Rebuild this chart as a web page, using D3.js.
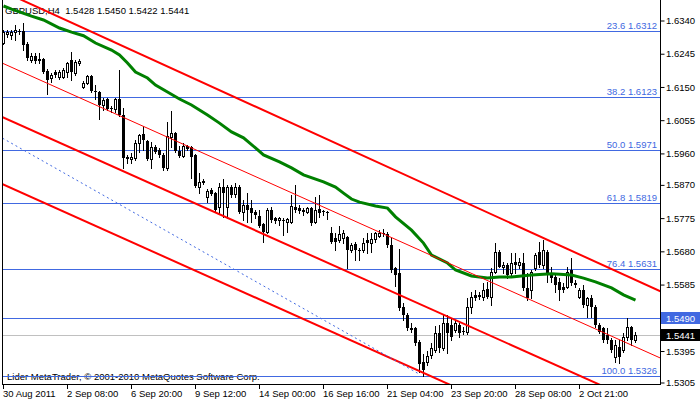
<!DOCTYPE html>
<html>
<head>
<meta charset="utf-8">
<script src="https://cdn.jsdelivr.net/npm/d3@7"></script>
<style>
  body { margin: 0; background: #fff; }
  svg text { font-family: "Liberation Sans", Arial, sans-serif; font-size: 9.5px; }
</style>
</head>
<body>
<div id="chart"></div>
<script>
"use strict";

// GBPUSD H4 bars, bar 0 = 30 Aug 2011 16:00
const barOpen = [
  1.6277, 1.6303, 1.6300, 1.6308, 1.6311, 1.6311, 1.6274, 1.6228, 1.6240, 1.6228,
  1.6231, 1.6197, 1.6177, 1.6194, 1.6180, 1.6180, 1.6194, 1.6228, 1.6191, 1.6220,
  1.6151, 1.6163, 1.6183, 1.6140, 1.6137, 1.6100, 1.6117, 1.6091, 1.6088, 1.6117,
  1.6071, 1.5951, 1.5945, 1.5948, 1.5991, 1.6017, 1.5997, 1.5945, 1.5980, 1.5971,
  1.5957, 1.5920, 1.6008, 1.6020, 1.5968, 1.5954, 1.5982, 1.5980, 1.5957, 1.5865,
  1.5883, 1.5837, 1.5857, 1.5848, 1.5808, 1.5865, 1.5808, 1.5865, 1.5845, 1.5865,
  1.5794, 1.5814, 1.5805, 1.5794, 1.5782, 1.5759, 1.5737, 1.5799, 1.5777, 1.5771,
  1.5771, 1.5765, 1.5765, 1.5808, 1.5805, 1.5799, 1.5794, 1.5805, 1.5765, 1.5802,
  1.5797, 1.5794, 1.5734, 1.5720, 1.5714, 1.5720, 1.5722, 1.5685, 1.5702, 1.5685,
  1.5685, 1.5714, 1.5705, 1.5717, 1.5725, 1.5734, 1.5731, 1.5700, 1.5634, 1.5620,
  1.5522, 1.5499, 1.5462, 1.5462, 1.5422, 1.5365, 1.5365, 1.5385, 1.5399, 1.5448,
  1.5405, 1.5476, 1.5471, 1.5456, 1.5471, 1.5453, 1.5450, 1.5522, 1.5557, 1.5557,
  1.5551, 1.5574, 1.5551, 1.5622, 1.5680, 1.5637, 1.5642, 1.5620, 1.5651, 1.5642,
  1.5648, 1.5577, 1.5571, 1.5634, 1.5680, 1.5642, 1.5680, 1.5620, 1.5608, 1.5594,
  1.5580, 1.5580, 1.5628, 1.5591, 1.5551, 1.5571, 1.5528, 1.5548, 1.5522, 1.5471,
  1.5462, 1.5442, 1.5428, 1.5379, 1.5408, 1.5399, 1.5436, 1.5465, 1.5428
];
const barHigh = [
  1.6314, 1.6314, 1.6314, 1.6328, 1.6317, 1.6334, 1.6280, 1.6248, 1.6248, 1.6248,
  1.6234, 1.6203, 1.6191, 1.6200, 1.6200, 1.6206, 1.6223, 1.6251, 1.6228, 1.6231,
  1.6168, 1.6186, 1.6186, 1.6157, 1.6140, 1.6120, 1.6120, 1.6097, 1.6120, 1.6200,
  1.6091, 1.5957, 1.5963, 1.6000, 1.6017, 1.6040, 1.6000, 1.5994, 1.5985, 1.5977,
  1.5963, 1.6051, 1.6083, 1.6023, 1.5982, 1.5991, 1.5985, 1.5982, 1.5960, 1.5905,
  1.5888, 1.5860, 1.5863, 1.5851, 1.5877, 1.5888, 1.5871, 1.5871, 1.5877, 1.5871,
  1.5828, 1.5848, 1.5828, 1.5799, 1.5799, 1.5762, 1.5805, 1.5808, 1.5780, 1.5780,
  1.5777, 1.5777, 1.5842, 1.5871, 1.5814, 1.5805, 1.5808, 1.5808, 1.5837, 1.5842,
  1.5799, 1.5797, 1.5751, 1.5734, 1.5754, 1.5742, 1.5725, 1.5705, 1.5708, 1.5691,
  1.5720, 1.5734, 1.5734, 1.5737, 1.5742, 1.5745, 1.5737, 1.5720, 1.5637, 1.5688,
  1.5534, 1.5505, 1.5476, 1.5465, 1.5428, 1.5388, 1.5396, 1.5419, 1.5468, 1.5471,
  1.5499, 1.5499, 1.5491, 1.5485, 1.5476, 1.5465, 1.5548, 1.5565, 1.5571, 1.5565,
  1.5591, 1.5594, 1.5634, 1.5705, 1.5685, 1.5651, 1.5648, 1.5677, 1.5677, 1.5662,
  1.5677, 1.5620, 1.5628, 1.5677, 1.5708, 1.5714, 1.5685, 1.5637, 1.5620, 1.5605,
  1.5591, 1.5637, 1.5662, 1.5599, 1.5577, 1.5585, 1.5551, 1.5557, 1.5528, 1.5476,
  1.5465, 1.5462, 1.5433, 1.5428, 1.5428, 1.5448, 1.5490, 1.5468, 1.5450
];
const barLow = [
  1.6274, 1.6294, 1.6289, 1.6286, 1.6303, 1.6257, 1.6228, 1.6223, 1.6220, 1.6220,
  1.6191, 1.6131, 1.6166, 1.6180, 1.6174, 1.6177, 1.6180, 1.6171, 1.6186, 1.6214,
  1.6148, 1.6160, 1.6137, 1.6117, 1.6060, 1.6085, 1.6085, 1.6080, 1.6080, 1.6068,
  1.5920, 1.5934, 1.5934, 1.5942, 1.5965, 1.5971, 1.5942, 1.5920, 1.5963, 1.5951,
  1.5914, 1.5914, 1.5980, 1.5965, 1.5951, 1.5951, 1.5971, 1.5891, 1.5865, 1.5848,
  1.5874, 1.5822, 1.5842, 1.5797, 1.5791, 1.5780, 1.5777, 1.5837, 1.5837, 1.5791,
  1.5771, 1.5765, 1.5765, 1.5777, 1.5751, 1.5708, 1.5734, 1.5765, 1.5762, 1.5756,
  1.5728, 1.5737, 1.5762, 1.5794, 1.5791, 1.5785, 1.5791, 1.5756, 1.5762, 1.5779,
  1.5785, 1.5774, 1.5705, 1.5685, 1.5708, 1.5705, 1.5634, 1.5680, 1.5657, 1.5657,
  1.5680, 1.5677, 1.5680, 1.5708, 1.5722, 1.5725, 1.5694, 1.5622, 1.5582, 1.5513,
  1.5485, 1.5456, 1.5450, 1.5413, 1.5336, 1.5326, 1.5356, 1.5376, 1.5393, 1.5393,
  1.5399, 1.5390, 1.5428, 1.5450, 1.5436, 1.5445, 1.5445, 1.5505, 1.5542, 1.5545,
  1.5542, 1.5548, 1.5528, 1.5620, 1.5637, 1.5620, 1.5605, 1.5608, 1.5620, 1.5634,
  1.5571, 1.5542, 1.5548, 1.5628, 1.5637, 1.5634, 1.5594, 1.5594, 1.5565, 1.5542,
  1.5565, 1.5577, 1.5585, 1.5580, 1.5548, 1.5522, 1.5494, 1.5494, 1.5465, 1.5448,
  1.5422, 1.5419, 1.5393, 1.5365, 1.5362, 1.5393, 1.5428, 1.5413, 1.5422
];
const barClose = [
  1.6308, 1.6308, 1.6308, 1.6314, 1.6308, 1.6271, 1.6234, 1.6240, 1.6226, 1.6231,
  1.6194, 1.6171, 1.6186, 1.6186, 1.6194, 1.6200, 1.6220, 1.6194, 1.6223, 1.6226,
  1.6163, 1.6183, 1.6140, 1.6137, 1.6100, 1.6114, 1.6088, 1.6088, 1.6117, 1.6071,
  1.5948, 1.5945, 1.5951, 1.5991, 1.6014, 1.6000, 1.5945, 1.5980, 1.5965, 1.5957,
  1.5920, 1.6011, 1.6020, 1.5968, 1.5954, 1.5982, 1.5974, 1.5951, 1.5868, 1.5880,
  1.5877, 1.5854, 1.5845, 1.5799, 1.5865, 1.5848, 1.5865, 1.5842, 1.5865, 1.5794,
  1.5814, 1.5799, 1.5791, 1.5785, 1.5754, 1.5737, 1.5799, 1.5771, 1.5768, 1.5777,
  1.5768, 1.5774, 1.5811, 1.5799, 1.5797, 1.5794, 1.5805, 1.5762, 1.5799, 1.5791,
  1.5794, 1.5791, 1.5708, 1.5708, 1.5731, 1.5734, 1.5685, 1.5700, 1.5685, 1.5682,
  1.5705, 1.5705, 1.5717, 1.5734, 1.5734, 1.5731, 1.5700, 1.5628, 1.5614, 1.5519,
  1.5499, 1.5462, 1.5456, 1.5419, 1.5359, 1.5342, 1.5382, 1.5405, 1.5448, 1.5405,
  1.5476, 1.5448, 1.5436, 1.5476, 1.5448, 1.5450, 1.5522, 1.5551, 1.5548, 1.5551,
  1.5571, 1.5551, 1.5622, 1.5680, 1.5637, 1.5642, 1.5614, 1.5648, 1.5642, 1.5651,
  1.5577, 1.5548, 1.5622, 1.5671, 1.5642, 1.5685, 1.5614, 1.5605, 1.5585, 1.5571,
  1.5571, 1.5622, 1.5591, 1.5585, 1.5571, 1.5528, 1.5548, 1.5522, 1.5471, 1.5450,
  1.5428, 1.5428, 1.5399, 1.5413, 1.5379, 1.5436, 1.5465, 1.5428, 1.5441
];

// green moving average, sampled at these bars
const maBars = [0, 2, 7, 10, 14, 17, 20, 23, 27, 29, 31, 33, 36, 38, 41, 44, 47, 51, 54, 57,
  60, 63, 65, 69, 72, 75, 80, 83, 85, 87, 89, 93, 96, 98, 102, 105, 107, 111, 113, 117,
  121, 124, 127, 132, 137, 142, 145, 148, 152, 155, 158];
const maValues = [1.6383, 1.6374, 1.6354, 1.6343, 1.6320, 1.6308, 1.6298, 1.6277, 1.6257, 1.6243,
  1.6220, 1.6194, 1.6177, 1.6157, 1.6137, 1.6117, 1.6100, 1.6071, 1.6048, 1.6023,
  1.6006, 1.5977, 1.5957, 1.5937, 1.5920, 1.5900, 1.5880, 1.5865, 1.5848, 1.5831,
  1.5822, 1.5811, 1.5805, 1.5780, 1.5742, 1.5705, 1.5671, 1.5648, 1.5628, 1.5611,
  1.5605, 1.5608, 1.5608, 1.5614, 1.5617, 1.5614, 1.5605, 1.5594, 1.5577, 1.5557, 1.5542];

// channel drawn with objects: price at channelBars[0] and channelBars[1]
const channelBars = [0, 160];
const channelUpper = [1.6424, 1.5589];
const channelMiddle = [1.6218, 1.5398];
const channelLower = [1.6064, 1.5244];
const channelLower2 = [1.5872, 1.5052];
const trendBars = [0, 104];
const trendPrices = [1.6005, 1.5330];

const fibNames = ["23.6", "38.2", "50.0", "61.8", "76.4", "100.0"];
const fibPrices = [1.6312, 1.6123, 1.5971, 1.5819, 1.5631, 1.5326];
const levelPrice = 1.5490;
const bidPrice = 1.5441;

const priceTicks = [1.6340, 1.6245, 1.6150, 1.6055, 1.5960, 1.5870, 1.5775, 1.5680, 1.5585, 1.5490, 1.5395, 1.5305];
const timeTickBars = [0, 16, 32, 48, 64, 80, 96, 112, 128, 144];
const timeTickLabels = ["30 Aug 2011", "2 Sep 08:00", "6 Sep 20:00", "9 Sep 12:00", "14 Sep 00:00",
  "16 Sep 16:00", "21 Sep 04:00", "23 Sep 20:00", "28 Sep 08:00", "2 Oct 21:00"];

const titleText = "GBPUSD,H4  1.5428 1.5450 1.5422 1.5441";
const footerText = "Lider MetaTrader, \u00a9 2001-2010 MetaQuotes Software Corp.";

{ // start scope

const width = 700, height = 402;
const plot = {left: 3, right: 660, top: 0, bottom: 384};
const blue = "#4169e1";

const xScale = d3.scaleLinear().domain([0, 158]).range([3.5, 635.5]);
const yScale = d3.scaleLinear().domain([1.5305, 1.6340]).range([383, 21]);

const svg = d3.select("#chart")
  .append("svg")
    .attr("width", width)
    .attr("height", height);

svg.append("rect")
    .attr("width", width)
    .attr("height", height)
    .attr("fill", "#fff");

svg.append("clipPath")
    .attr("id", "plot-clip")
  .append("rect")
    .attr("x", plot.left)
    .attr("y", plot.top)
    .attr("width", plot.right - plot.left)
    .attr("height", plot.bottom - plot.top);

const chart = svg.append("g").attr("clip-path", "url(#plot-clip)");

// title sits under the indicator line
chart.append("text")
    .attr("x", 5)
    .attr("y", 14)
    .style("white-space", "pre")
    .attr("fill", "#000")
    .text(titleText);

chart.append("text")
    .attr("x", 7)
    .attr("y", 380)
    .attr("fill", "#000")
    .text(footerText);

// horizontal levels
const hLines = fibPrices.concat([levelPrice]);
chart.selectAll(".hline")
  .data(hLines)
  .join("line")
    .attr("class", "hline")
    .attr("x1", plot.left)
    .attr("x2", plot.right)
    .attr("y1", d => Math.round(yScale(d)) + 0.5)
    .attr("y2", d => Math.round(yScale(d)) + 0.5)
    .attr("stroke", blue)
    .attr("stroke-width", 1);

chart.append("line")
    .attr("x1", plot.left)
    .attr("x2", plot.right)
    .attr("y1", Math.round(yScale(bidPrice)) + 0.5)
    .attr("y2", Math.round(yScale(bidPrice)) + 0.5)
    .attr("stroke", "#c0c0c0");

chart.selectAll(".fib-label")
  .data(fibPrices)
  .join("text")
    .attr("class", "fib-label")
    .attr("x", 657)
    .attr("y", d => Math.round(yScale(d)) - 2)
    .attr("text-anchor", "end")
    .attr("fill", blue)
    .text((d, i) => fibNames[i] + " " + d.toFixed(4));

// candles
const bars = d3.range(barOpen.length).map(i => ({
  i: i, o: barOpen[i], h: barHigh[i], l: barLow[i], c: barClose[i]
}));

const candle = chart.append("g")
    .attr("shape-rendering", "crispEdges")
  .selectAll("g")
  .data(bars)
  .join("g");

candle.append("line")
    .attr("x1", d => xScale(d.i))
    .attr("x2", d => xScale(d.i))
    .attr("y1", d => Math.round(yScale(d.h)))
    .attr("y2", d => Math.round(yScale(d.l)) + 1)
    .attr("stroke", "#000");

candle.filter(d => d.c > d.o).append("rect")
    .attr("x", d => xScale(d.i) - 1)
    .attr("y", d => Math.round(yScale(d.c)) + 0.5)
    .attr("width", 2)
    .attr("height", d => Math.max(Math.round(yScale(d.o)) - Math.round(yScale(d.c)), 1))
    .attr("fill", "#fff")
    .attr("stroke", "#000")
    .attr("shape-rendering", "auto");

candle.filter(d => d.c <= d.o).append("rect")
    .attr("x", d => xScale(d.i) - 1.5)
    .attr("y", d => Math.round(yScale(d.o)))
    .attr("width", 3)
    .attr("height", d => Math.max(Math.round(yScale(d.c)) - Math.round(yScale(d.o)), 1))
    .attr("fill", "#000");

// moving average
const maLine = d3.line()
    .x((d, i) => xScale(maBars[i]))
    .y(d => yScale(d));

chart.append("path")
    .attr("d", maLine(maValues))
    .attr("fill", "none")
    .attr("stroke", "#008000")
    .attr("stroke-width", 3);

// channel and trend objects
function drawRay(prices, bars, strokeWidth, dash) {
  const slope = (prices[1] - prices[0]) / (bars[1] - bars[0]);
  const b0 = -2, b1 = 170;
  chart.append("line")
      .attr("x1", xScale(b0))
      .attr("y1", yScale(prices[0] + slope * (b0 - bars[0])))
      .attr("x2", xScale(b1))
      .attr("y2", yScale(prices[0] + slope * (b1 - bars[0])))
      .attr("stroke", "#ff0000")
      .attr("stroke-width", strokeWidth);
}

drawRay(channelUpper, channelBars, 2);
drawRay(channelMiddle, channelBars, 1);
drawRay(channelLower, channelBars, 2);
drawRay(channelLower2, channelBars, 2);

chart.append("line")
    .attr("x1", xScale(trendBars[0]) - 1)
    .attr("y1", yScale(trendPrices[0]))
    .attr("x2", xScale(trendBars[1]))
    .attr("y2", yScale(trendPrices[1]))
    .attr("stroke", blue)
    .attr("stroke-width", 1)
    .attr("stroke-dasharray", "2,3");

// frame
svg.append("line")
    .attr("x1", 2.5).attr("x2", 2.5)
    .attr("y1", 0).attr("y2", plot.bottom + 1)
    .attr("stroke", "#000");
svg.append("line")
    .attr("x1", 2).attr("x2", plot.right + 1)
    .attr("y1", plot.bottom + 0.5).attr("y2", plot.bottom + 0.5)
    .attr("stroke", "#000");
svg.append("line")
    .attr("x1", plot.right + 0.5).attr("x2", plot.right + 0.5)
    .attr("y1", 0).attr("y2", plot.bottom + 1)
    .attr("stroke", "#000");

// price axis
const yAxis = svg.append("g")
    .attr("transform", "translate(" + (plot.right + 0.5) + ",-0.5)")
    .call(d3.axisRight(yScale)
      .tickValues(priceTicks)
      .tickFormat(d3.format(".4f"))
      .tickSize(4)
      .tickSizeOuter(0));
yAxis.select(".domain").remove();
yAxis.selectAll("text").attr("x", 5.5).attr("fill", "#000");
yAxis.selectAll("line").attr("stroke", "#000");

// time axis
const xAxis = svg.append("g")
    .attr("transform", "translate(-0.5," + plot.bottom + ")")
    .call(d3.axisBottom(xScale)
      .tickValues(timeTickBars)
      .tickFormat((d, i) => timeTickLabels[i])
      .tickSize(5)
      .tickSizeOuter(0));
xAxis.select(".domain").remove();
xAxis.selectAll("text")
    .attr("text-anchor", "start")
    .attr("x", -0.5)
    .attr("y", 6)
    .attr("fill", "#000");
xAxis.selectAll("line").attr("stroke", "#000");

// price boxes on the axis
function priceBox(price, fill) {
  const y = Math.round(yScale(price));
  svg.append("rect")
      .attr("x", plot.right + 1)
      .attr("y", y - 6)
      .attr("width", width - plot.right - 1)
      .attr("height", 12)
      .attr("fill", fill);
  svg.append("text")
      .attr("x", plot.right + 6)
      .attr("y", y + 3.5)
      .attr("fill", "#fff")
      .text(price.toFixed(4));
}

priceBox(levelPrice, blue);
priceBox(bidPrice, "#000");

} // stop scope
</script>
</body>
</html>
